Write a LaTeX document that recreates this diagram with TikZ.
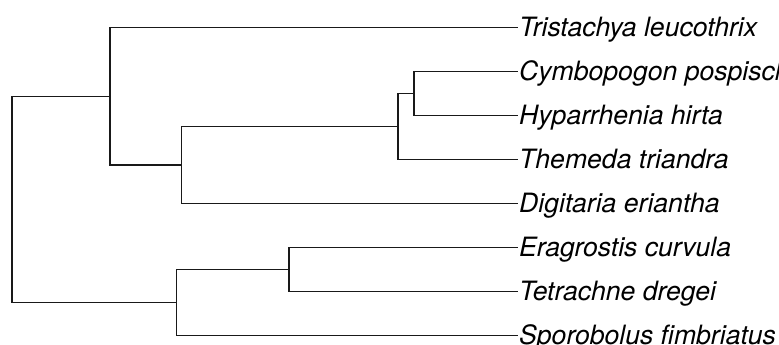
\documentclass[tikz,border=0pt]{standalone}
\usepackage{fontspec}
\setmainfont{TeX Gyre Heros}
\begin{document}
\begin{tikzpicture}[x=1pt,y=-1pt,
  branch/.style={draw=black!90,line width=1.1pt,line cap=rect},
  taxon/.style={anchor=base west,inner sep=0pt,xshift=2pt,yshift=-9.3pt,
    font=\fontsize{26.6}{31}\selectfont\itshape}]
\useasboundingbox (0,0) rectangle (779,345);
\clip (0,0) rectangle (779,345);
% internal nodes
\coordinate (root) at (12,199);
\coordinate (A) at (110,96.25);
\coordinate (B) at (181.5,165);
\coordinate (C) at (398,126.5);
\coordinate (D) at (414,93.5);
\coordinate (E) at (176.5,302.5);
\coordinate (F) at (289,269.5);
% tips
\coordinate (t1) at (517,27.5);
\coordinate (t2) at (517,71.5);
\coordinate (t3) at (517,115.5);
\coordinate (t4) at (517,159.5);
\coordinate (t5) at (517,203.5);
\coordinate (t6) at (517,247.5);
\coordinate (t7) at (517,291.5);
\coordinate (t8) at (517,335.5);
\node[taxon] (n1) at (t1) {Tristachya leucothrix};
\node[taxon] (n2) at (t2) {Cymbopogon pospischilii};
\node[taxon] (n3) at (t3) {Hyparrhenia hirta};
\node[taxon] (n4) at (t4) {Themeda triandra};
\node[taxon] (n5) at (t5) {Digitaria eriantha};
\node[taxon] (n6) at (t6) {Eragrostis curvula};
\node[taxon] (n7) at (t7) {Tetrachne dregei};
\node[taxon] (n8) at (t8) {Sporobolus fimbriatus};
% branches
\draw[branch] (root) |- (A);
\draw[branch] (root) |- (E);
\draw[branch] (A) |- (t1);
\draw[branch] (A) |- (B);
\draw[branch] (B) |- (C);
\draw[branch] (B) |- (t5);
\draw[branch] (C) |- (D);
\draw[branch] (C) |- (t4);
\draw[branch] (D) |- (t2);
\draw[branch] (D) |- (t3);
\draw[branch] (E) |- (F);
\draw[branch] (E) |- (t8);
\draw[branch] (F) |- (t6);
\draw[branch] (F) |- (t7);
\end{tikzpicture}
\end{document}
